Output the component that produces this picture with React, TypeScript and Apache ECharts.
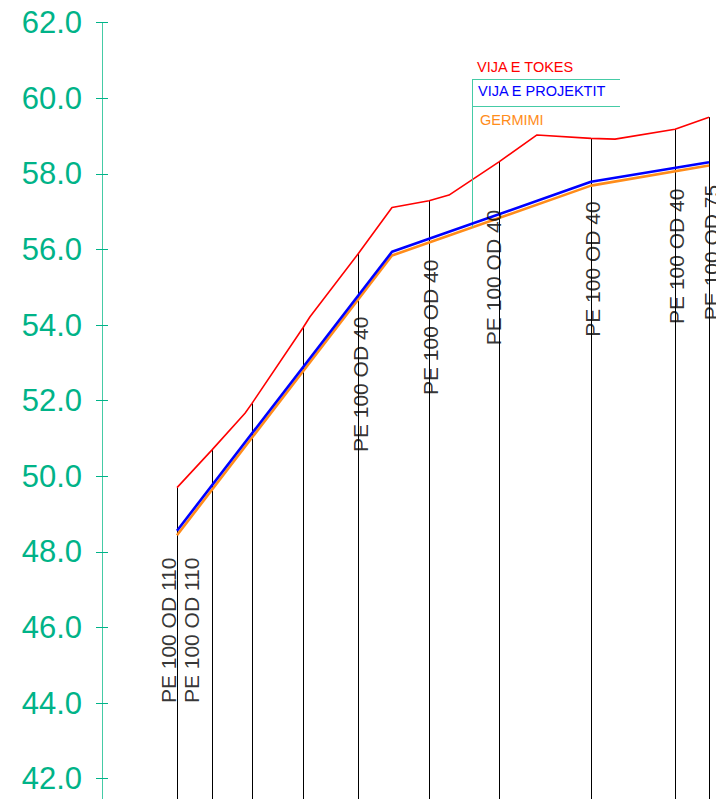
import React, { useEffect, useRef } from "react";
import * as echarts from "echarts";

// Chainage (horizontal distance) and elevations read from the profile
const groundX = [75, 110, 143, 150, 201, 208, 256, 290, 327, 347, 397, 435, 489, 513, 573, 607];
const groundY = [49.7, 50.7, 51.67, 51.93, 53.93, 54.22, 55.88, 57.11, 57.29, 57.44, 58.32, 59.03, 58.94, 58.92, 59.18, 59.5];

const designX = [75, 290, 489, 607];
const designY = [48.56, 55.94, 57.79, 58.31];
const trenchY = [48.44, 55.84, 57.69, 58.22];

const stations = [75, 110, 150, 201, 256, 327, 397, 489, 573, 607];

const pipeLabels = [
  "PE 100 OD 110",
  "PE 100 OD 110",
  "PE 100 OD 40",
  "PE 100 OD 40",
  "PE 100 OD 40",
  "PE 100 OD 40",
  "PE 100 OD 40",
  "PE 100 OD 75",
];
const pipeLabelX = [66, 89, 258, 328, 391, 490, 574, 609];
const pipeLabelY = [44.0, 44.0, 50.64, 52.15, 53.47, 53.69, 54.03, 54.13];

const legendNames = ["VIJA E TOKES", "VIJA E PROJEKTIT", "GERMIMI"];

// leader / legend frame anchors (chart units)
const leaderX = 370;
const leaderEndX = 518;
const frameTopY = 60.5;
const frameMidY = 59.8;

const Y_MIN = 40;
const Y_MAX = 62;
const Y_STEP = 2;
const Y_FIRST_SHOWN = 42;

const FONT = "'Liberation Sans', Arial, sans-serif";
const TEAL = "#00b388";
const TEAL_LINE = "#45cba6";
const RED = "#ff0000";
const BLUE = "#0000ff";
const ORANGE = "#ff8c1a";

function interp(xs: number[], ys: number[], x: number) {
  for (let i = 0; i < xs.length - 1; i++) {
    if (x >= xs[i] && x <= xs[i + 1]) {
      const t = (x - xs[i]) / (xs[i + 1] - xs[i]);
      return ys[i] + t * (ys[i + 1] - ys[i]);
    }
  }
  return ys[ys.length - 1];
}

export default function App() {
  const ref = useRef<HTMLDivElement>(null);

  useEffect(() => {
    if (!ref.current) return;
    const chart = echarts.init(ref.current, undefined, { renderer: "svg" });

    const ground = groundX.map((x, i) => [x, groundY[i]]);
    const design = designX.map((x, i) => [x, designY[i]]);
    const trench = designX.map((x, i) => [x, trenchY[i]]);

    const verticals = stations.map((s) => {
      const idx = groundX.indexOf(s);
      const top = idx >= 0 ? groundY[idx] : interp(groundX, groundY, s);
      return [{ coord: [s, top] }, { coord: [s, Y_MIN] }];
    });

    const leaderBottom = interp(designX, trenchY, leaderX);

    const labelData = pipeLabelX.map((x, i) => ({
      value: [x, pipeLabelY[i]],
      name: pipeLabels[i],
    }));

    const option: any = {
      animation: false,
      backgroundColor: "#ffffff",
      grid: {
        left: 102,
        top: 22.7,
        width: 628,
        height: (Y_MAX - Y_MIN) * 37.8,
        containLabel: false,
        outerBoundsMode: "none",
      },
      xAxis: {
        type: "value",
        min: 0,
        max: 628,
        show: false,
      },
      yAxis: [
        {
          type: "value",
          min: Y_MIN,
          max: Y_MAX,
          interval: Y_STEP,
          position: "left",
          axisLine: { show: true, lineStyle: { color: TEAL_LINE, width: 1 } },
          axisTick: { show: true, inside: false, length: 6, lineStyle: { color: TEAL, width: 1 } },
          axisLabel: {
            show: true,
            margin: 20,
            color: TEAL,
            fontSize: 31,
            fontFamily: FONT,
            formatter: (v: number) => (v < Y_FIRST_SHOWN ? "" : v.toFixed(1)),
          },
          splitLine: { show: false },
        },
        {
          type: "value",
          min: Y_MIN,
          max: Y_MAX,
          interval: Y_STEP,
          position: "left",
          offset: 0,
          axisLine: { show: false },
          axisTick: { show: true, inside: true, length: 6, lineStyle: { color: TEAL, width: 1 } },
          axisLabel: { show: false },
          splitLine: { show: false },
        },
      ],
      series: [
        {
          type: "line",
          name: legendNames[0],
          data: ground,
          symbol: "none",
          lineStyle: { color: RED, width: 1.6 },
          z: 3,
          markLine: {
            silent: true,
            symbol: ["none", "none"],
            label: { show: false },
            lineStyle: { color: "#000000", width: 1, type: "solid" },
            data: verticals,
            z: 1,
          },
        },
        {
          type: "line",
          name: legendNames[2],
          data: trench,
          symbol: "none",
          lineStyle: { color: ORANGE, width: 2.6 },
          z: 4,
          markLine: {
            silent: true,
            symbol: ["none", "none"],
            label: { show: false },
            lineStyle: { color: TEAL_LINE, width: 1, type: "solid" },
            data: [
              [{ coord: [leaderX, leaderBottom] }, { coord: [leaderX, frameTopY] }],
              [{ coord: [leaderX, frameTopY] }, { coord: [leaderEndX, frameTopY] }],
              [{ coord: [leaderX, frameMidY] }, { coord: [leaderEndX, frameMidY] }],
            ],
          },
        },
        {
          type: "line",
          name: legendNames[1],
          data: design,
          symbol: "none",
          lineStyle: { color: BLUE, width: 2.6 },
          z: 5,
        },
        {
          type: "scatter",
          data: labelData,
          symbolSize: 0,
          clip: false,
          z: 6,
          label: {
            show: true,
            position: "inside",
            rotate: 90,
            align: "left",
            verticalAlign: "middle",
            formatter: (p: any) => p.name,
            color: "#000000",
            fontSize: 21,
            fontFamily: FONT,
          },
        },
      ],
      graphic: [
        {
          type: "text",
          x: 477,
          y: 67,
          style: {
            text: legendNames[0],
            fill: RED,
            fontSize: 14.5,
            fontFamily: FONT,
            align: "left",
            verticalAlign: "middle",
          },
        },
        {
          type: "text",
          x: 478,
          y: 91,
          style: {
            text: legendNames[1],
            fill: BLUE,
            fontSize: 14.5,
            fontFamily: FONT,
            align: "left",
            verticalAlign: "middle",
          },
        },
        {
          type: "text",
          x: 480,
          y: 120,
          style: {
            text: legendNames[2],
            fill: ORANGE,
            fontSize: 14.5,
            fontFamily: FONT,
            align: "left",
            verticalAlign: "middle",
          },
        },
      ],
    };

    chart.setOption(option);
    return () => chart.dispose();
  }, []);

  return (
    <div
      ref={ref}
      style={{ position: "absolute", left: 0, top: 0, width: 716, height: 799, background: "#fff" }}
    />
  );
}
